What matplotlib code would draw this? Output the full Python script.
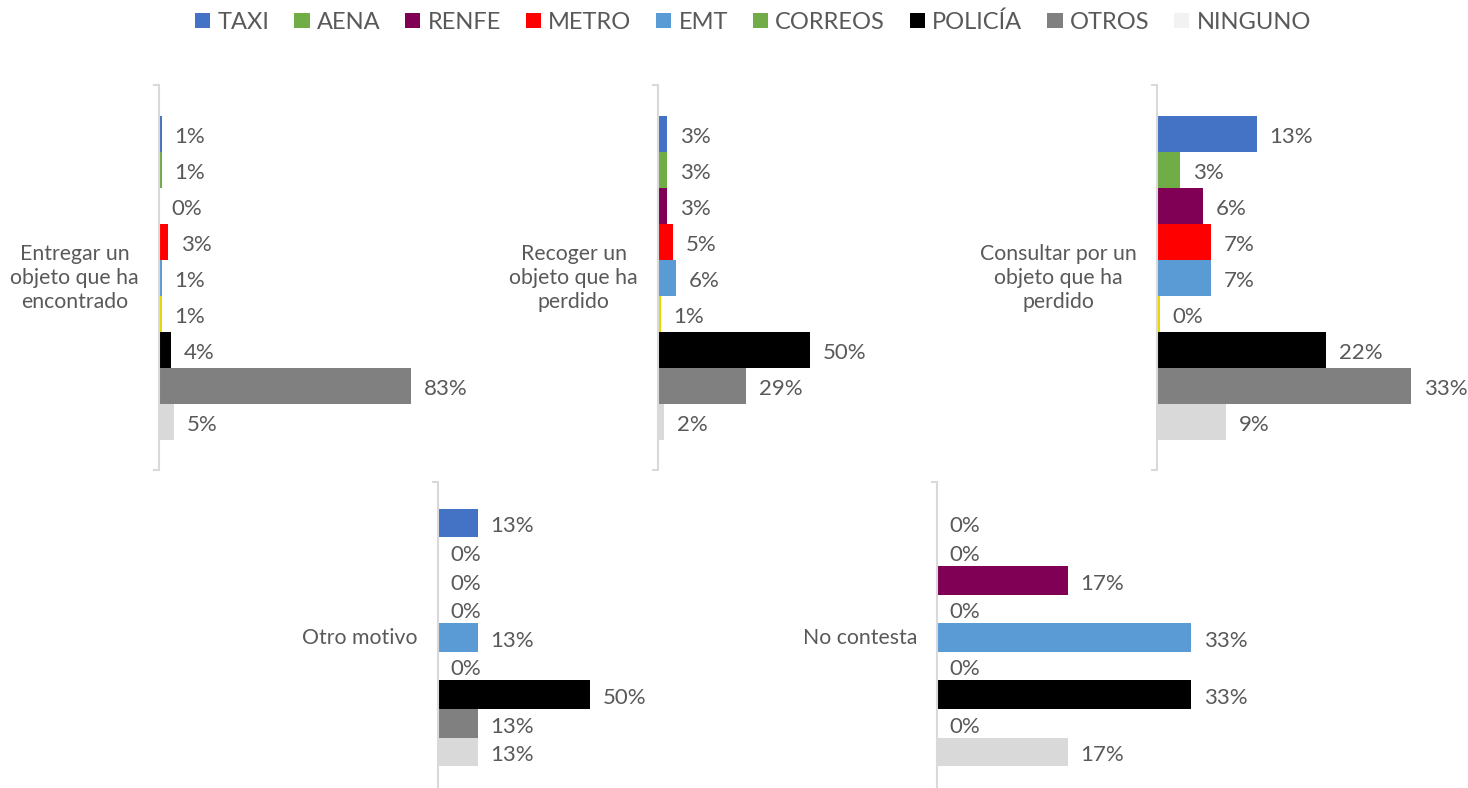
import matplotlib.pyplot as plt
from matplotlib.patches import Patch

plt.rcParams['font.family'] = ['Lato', 'DejaVu Sans']

# Operators in bar order (top to bottom)
operadores = ['TAXI', 'AENA', 'RENFE', 'METRO', 'EMT', 'CORREOS', 'POLICÍA', 'OTROS', 'NINGUNO']
colores_barra = ['#4472C4', '#70AD47', '#7F0055', '#FF0000', '#5B9BD5',
                 '#E6D900', '#000000', '#808080', '#D9D9D9']
colores_leyenda = ['#4472C4', '#70AD47', '#7F0055', '#FF0000', '#5B9BD5',
                   '#70AD47', '#000000', '#808080', '#F2F2F2']

motivos = ['Entregar un\nobjeto que ha\nencontrado',
           'Recoger un\nobjeto que ha\nperdido',
           'Consultar por un\nobjeto que ha\nperdido',
           'Otro motivo',
           'No contesta']

# Percentage of respondents per operator, one list per reason
entregar = [1, 1, 0, 3, 1, 1, 4, 83, 5]
recoger = [3, 3, 3, 5, 6, 1, 50, 29, 2]
consultar = [13, 3, 6, 7, 7, 0.4, 22, 33, 9]
otro_motivo = [13, 0, 0, 0, 13, 0, 50, 13, 13]
no_contesta = [0, 0, 17, 0, 33, 0, 33, 0, 17]

valores = [entregar, recoger, consultar, otro_motivo, no_contesta]

W, H = 1468, 788
fig = plt.figure(figsize=(W / 100, H / 100), dpi=100)

TEXT = '#595959'
AXIS = '#D9D9D9'

# panel layout in pixels: axis x, top, height, px per bar, px per percent
layout = [
    (159, 85, 385, 36.0, 3.04),
    (658, 85, 385, 36.0, 3.04),
    (1157, 85, 385, 36.0, 7.7),
    (438, 482, 311, 28.6, 3.04),
    (937, 482, 311, 28.6, 7.7),
]
AX_W = 290

for motivo, vals, (x0, top, h, unit, scale) in zip(motivos, valores, layout):
    ax = fig.add_axes([x0 / W, 1 - (top + h) / H, AX_W / W, h / H])
    ys = list(range(len(operadores)))
    ax.barh(ys, vals, height=1.0, color=colores_barra, linewidth=0)
    margin = (h / unit - len(operadores)) / 2
    ax.set_ylim(len(operadores) - 0.5 + margin, -0.5 - margin)
    ax.set_xlim(0, AX_W / scale)

    for y, v in zip(ys, vals):
        ax.annotate(f'{round(v):.0f}%', xy=(v, y), xytext=(9, -1),
                    textcoords='offset points', va='center_baseline', ha='left',
                    fontsize=16, color=TEXT, annotation_clip=False)

    for s in ['top', 'right', 'bottom']:
        ax.spines[s].set_visible(False)
    ax.spines['left'].set_color(AXIS)
    ax.spines['left'].set_linewidth(1.5)
    ax.set_xticks([])
    ax.set_yticks(ax.get_ylim())
    ax.set_yticklabels([])
    ax.tick_params(axis='y', length=4, width=1.5, color=AXIS, direction='out')

    fig.text((x0 - 20) / W, 1 - (top + h / 2) / H, motivo, ha='right', va='center',
             multialignment='center', fontsize=15.3, color=TEXT, linespacing=1.25)

handles = [Patch(facecolor=c, edgecolor='none') for c in colores_leyenda]
fig.legend(handles, operadores, loc='center', bbox_to_anchor=(753 / W, 1 - 22 / H),
           ncol=len(operadores), frameon=False, fontsize=17, labelcolor=TEXT,
           handlelength=0.65, handleheight=0.65, handletextpad=0.3,
           columnspacing=1.05)

fig.savefig('out.png', dpi=100, facecolor='white')
